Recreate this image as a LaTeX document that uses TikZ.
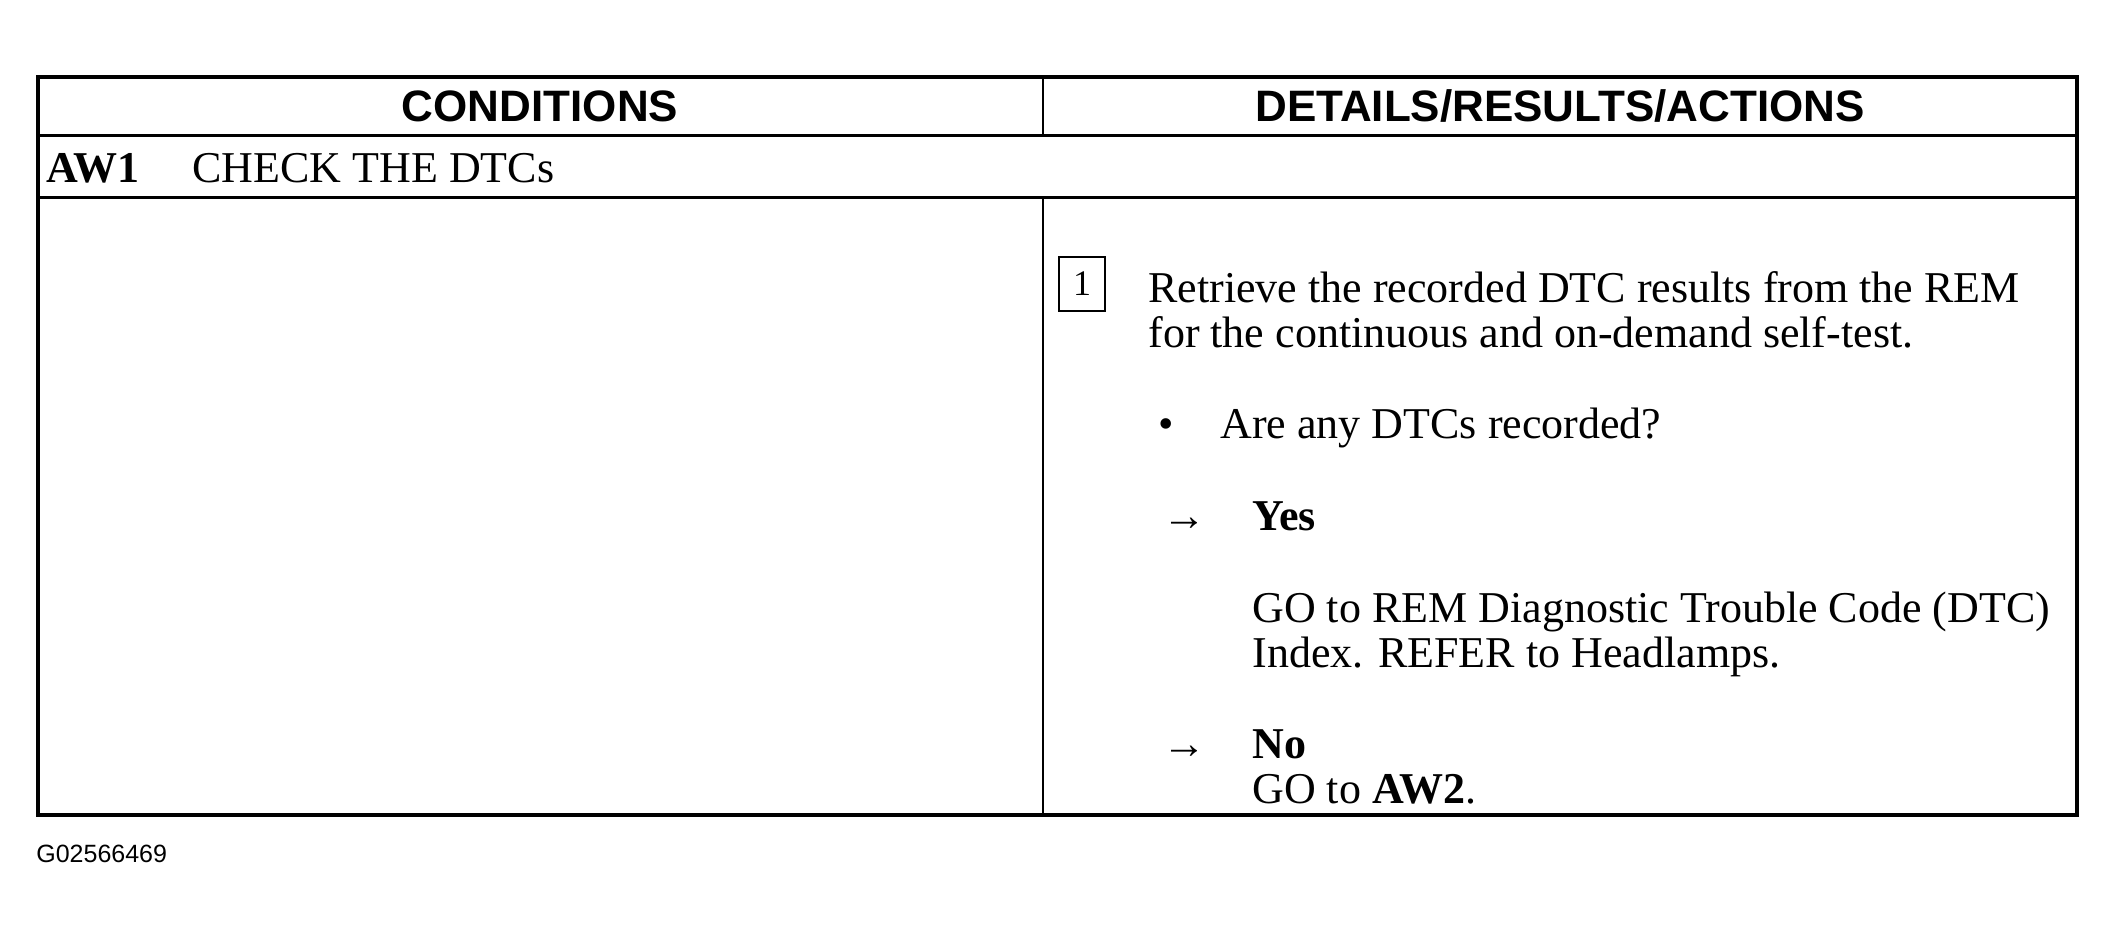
\documentclass[tikz,border=0pt]{standalone}
\usepackage{fontspec}
\setmainfont{Liberation Serif}
\setsansfont{Liberation Sans}
\begin{document}
\begin{tikzpicture}[x=0.5pt,y=-0.5pt,
  txt/.style={anchor=base west,inner sep=0pt,font=\fontsize{22}{22.5}\selectfont},
  hdr/.style={anchor=base,inner sep=0pt,font=\sffamily\bfseries\fontsize{22}{22}\selectfont},
  frame/.style={line width=2pt},
  rule/.style={line width=1.5pt},
  colrule/.style={line width=1.2pt},
  stepnum/.style={draw,line width=0.75pt,inner sep=0pt,minimum width=23pt,minimum height=27pt,font=\fontsize{18}{18}\selectfont}]
\useasboundingbox (0,0) rectangle (2116,936);
\fill[white] (0,0) rectangle (2116,936);
% table
\draw[frame] (38,77) rectangle (2077,815);
\draw[rule] (38,136) -- (2077,136);
\draw[rule] (38,198) -- (2077,198);
\draw[colrule] (1043,77) -- (1043,136);
\draw[colrule] (1043,198) -- (1043,815);
% headers
\node[hdr] (hcond) at (540,122) {CONDITIONS};
\node[hdr] (hdet) at (1560,122) {DETAILS/RESULTS/ACTIONS};
% AW1 row
\node[txt] (aw) at (46,183) {\bfseries AW1};
\node[txt] (awt) at (192,183) {CHECK THE DTCs};
% step
\node[stepnum] (s1) at (1082,284) {1};
\node[txt] (l1) at (1148,303) {Retrieve the recorded DTC results from the REM};
\node[txt] (l2) at (1148,348) {for the continuous and on-demand self-test.};
\node[txt] (bul) at (1158,438) {•};
\node[txt] (q) at (1220,438) {Are any DTCs recorded?};
\node[txt] (a1) at (1162,530) {→};
\node[txt] (yes) at (1252,530) {\bfseries Yes};
\node[txt] (y1) at (1252,622) {GO to REM Diagnostic Trouble Code (DTC)};
\node[txt] (y2) at (1252,667) {Index. REFER to Headlamps.};
\node[txt] (a2) at (1162,758) {→};
\node[txt] (no) at (1252,758) {\bfseries No};
\node[txt] (n1) at (1252,803) {GO to \textbf{AW2}.};
% footer
\node[anchor=base west,inner sep=0pt,font=\sffamily\fontsize{12.5}{12.5}\selectfont] (fig) at (36,862) {G02566469};
\end{tikzpicture}
\end{document}
